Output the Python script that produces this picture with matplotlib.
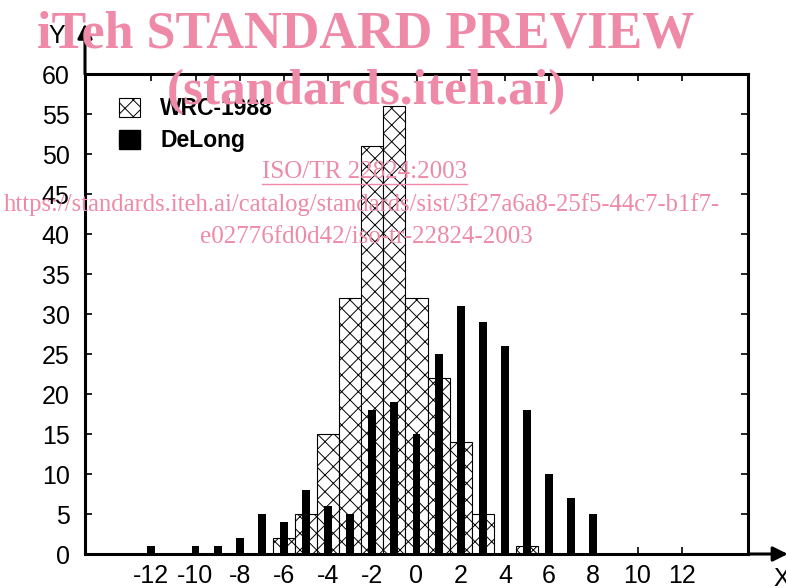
import numpy as np
import matplotlib
matplotlib.use('Agg')
import matplotlib.pyplot as plt
from matplotlib.patches import Patch
from matplotlib.lines import Line2D

plt.rcParams['font.family'] = ['Liberation Sans', 'DejaVu Sans']
plt.rcParams['hatch.linewidth'] = 0.7

# WRC-1988 (hatched histogram, unit bins)
wrc_x = [-6, -5, -4, -3, -2, -1, 0, 1, 2, 3, 4, 5]
wrc_y = [2, 5, 15, 32, 51, 56, 32, 22, 14, 5, 0, 1]

# DeLong (narrow black bars)
delong_x = [-12, -10, -9, -8, -7, -6, -5, -4, -3, -2, -1, 0, 1, 2, 3, 4, 5, 6, 7, 8]
delong_y = [1, 1, 1, 2, 5, 4, 8, 6, 5, 18, 19, 15, 25, 31, 29, 26, 18, 10, 7, 5]

xticks = np.arange(-12, 13, 2)
yticks = np.arange(0, 61, 5)

W, H = 786, 588
fig = plt.figure(figsize=(W / 100, H / 100), dpi=100)
ax = fig.add_axes([85 / W, 1 - 554 / H, (748 - 85) / W, (554 - 74) / H])

ax.bar(wrc_x, wrc_y, width=1.0, facecolor='white', edgecolor='black',
       hatch='xx', linewidth=0.8, zorder=2)
ax.bar(delong_x, delong_y, width=0.36, color='black', zorder=3)

ax.set_xlim(-15, 15)
ax.set_ylim(0, 60)
ax.set_xticks(xticks)
ax.set_xticklabels([str(t) for t in xticks])
ax.set_yticks(yticks)
ax.tick_params(direction='in', length=5, width=1.2, top=True, right=True,
               labelsize=18)
ax.tick_params(axis='x', pad=7)
ax.tick_params(axis='y', pad=11)
for s in ax.spines.values():
    s.set_linewidth(2.2)

# axis arrows
ax.annotate('', xy=(0, 1.105), xytext=(0, 1.0), xycoords='axes fraction',
            textcoords='axes fraction', annotation_clip=False,
            arrowprops=dict(arrowstyle='-|>', color='black', lw=2.2,
                            mutation_scale=22, shrinkA=0, shrinkB=0))
ax.annotate('', xy=(1.06, 0), xytext=(1.0, 0), xycoords='axes fraction',
            textcoords='axes fraction', annotation_clip=False,
            arrowprops=dict(arrowstyle='-|>', color='black', lw=2.2,
                            mutation_scale=22, shrinkA=0, shrinkB=0))
fig.text(57 / W, 1 - 36 / H, 'Y', fontsize=18, ha='center', va='center')
fig.text(782 / W, 1 - 579 / H, 'X', fontsize=18, ha='center', va='center')

handles = [Patch(facecolor='white', edgecolor='black', hatch='xx', linewidth=0.8),
           Patch(facecolor='black', edgecolor='black')]
ax.legend(handles, ['WRC-1988', 'DeLong'], loc='upper left',
          bbox_to_anchor=(0.02, 0.995), frameon=False,
          prop=dict(size=16.5, weight='bold'), handlelength=0.9, handleheight=0.9,
          handletextpad=0.9, labelspacing=0.4)

# watermark
pink = '#ee8aa8'
fig.text(366 / W, 1 - 34 / H, 'iTeh STANDARD PREVIEW', fontsize=37.5, weight='bold',
         color=pink, family='Liberation Serif', ha='center', va='center')
fig.text(366 / W, 1 - 92 / H, '(standards.iteh.ai)', fontsize=37, weight='bold',
         color=pink, family='Liberation Serif', ha='center', va='center')
fig.text(365 / W, 1 - 172 / H, 'ISO/TR 22824:2003', fontsize=18,
         color=pink, family='Liberation Serif', ha='center', va='center')
fig.add_artist(Line2D([262 / W, 467 / W], [1 - 184 / H, 1 - 184 / H], color=pink, lw=1))
fig.text(362 / W, 1 - 205 / H,
         'https://standards.iteh.ai/catalog/standards/sist/3f27a6a8-25f5-44c7-b1f7-',
         fontsize=17.7, color=pink, family='Liberation Serif', ha='center', va='center')
fig.text(366 / W, 1 - 237 / H, 'e02776fd0d42/iso-tr-22824-2003', fontsize=18,
         color=pink, family='Liberation Serif', ha='center', va='center')

fig.savefig('out.png', dpi=100)
